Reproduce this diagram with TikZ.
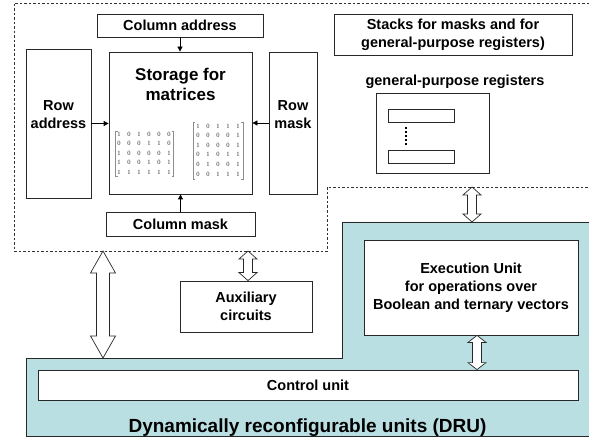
\documentclass[tikz,border=0pt]{standalone}
\usepackage{fontspec}
\setmainfont{Liberation Sans}
\newfontfamily\digitfont{Liberation Serif}
\usetikzlibrary{calc,arrows.meta}
\definecolor{druteal}{RGB}{186,223,227}
\definecolor{edge}{RGB}{40,40,40}

% hollow two-headed bus arrow between a top and a bottom point
% #1 top point, #2 bottom point, #3 shaft width, #4 head width, #5 head length
\newcommand\busarrow[5]{%
  \path[bus] let \p1=#1, \p2=#2 in
    (\x1-#3/2,\y1-#5) -- (\x1-#4/2,\y1-#5) -- (\x1,\y1) -- (\x1+#4/2,\y1-#5)
    -- (\x1+#3/2,\y1-#5) -- (\x1+#3/2,\y2+#5) -- (\x1+#4/2,\y2+#5) -- (\x1,\y2)
    -- (\x1-#4/2,\y2+#5) -- (\x1-#3/2,\y2+#5) -- cycle;}

\begin{document}
\begin{tikzpicture}[x=1pt,y=-1pt,
  box/.style={draw=edge, line width=0.8pt, fill=white, inner sep=0pt,
    font=\fontsize{14.5}{18}\selectfont\bfseries, align=center},
  lbl/.style={font=\fontsize{14.5}{18}\selectfont\bfseries, align=center, inner sep=0pt},
  title/.style={font=\fontsize{17}{20}\selectfont\bfseries, align=center, inner sep=0pt},
  feed/.style={draw=black, line width=0.8pt, -{Triangle[length=5pt,width=5pt]}},
  bus/.style={draw=edge, line width=0.7pt, fill=white},
  bit/.style={font=\digitfont\fontsize{6.5}{7}\selectfont, text=black!80, inner sep=0pt},
  brk/.style={draw=black!45, line width=0.5pt},
  frame/.style={draw=black!80, line width=0.6pt, dash pattern=on 2.5pt off 2pt}]

% canvas
\path[fill=white] (0,0) rectangle (589,438);
\useasboundingbox (0,0) rectangle (589,438);

% dynamically reconfigurable units (teal L-shaped region)
\path[fill=druteal, draw=edge, line width=0.8pt]
  (26,358) -- (342,358) -- (342,222) -- (589,222) -- (589,436) -- (26,436) -- cycle;

% dashed frame of the storage part
\draw[frame] (589,3) -- (14,3) -- (14,251) -- (327,251) -- (327,187) -- (589,187);

% storage block
\node[box, minimum width=166pt, minimum height=23pt] (coladdr) at (180,25.5) {Column address};
\node[box, minimum width=143pt, minimum height=142pt] (storage) at (180.5,123) {};
\node[title] (stortitle) at (180.5,84) {Storage for\\matrices};
\node[box, minimum width=65pt, minimum height=149pt] (rowaddr) at (58.5,123.5) {};
\node[lbl] (rowaddrtxt) at (58.5,115) {Row\\address};
\node[box, minimum width=48pt, minimum height=142pt] (rowmask) at (293,123) {};
\node[lbl] (rowmasktxt) at (293,115) {Row\\mask};
\node[box, minimum width=149pt, minimum height=24pt] (colmask) at (180.5,224) {Column mask};

\draw[feed] (coladdr.south) -- (coladdr.south |- storage.north);
\draw[feed] (rowaddr.east) -- (rowaddr.east -| storage.west);
\draw[feed] (rowmask.west) -- (rowmask.west -| storage.east);
\draw[feed] (colmask.north) -- (colmask.north |- storage.south);

% sample matrices
\foreach \r [count=\i from 0] in {{1,0,1,0,0,0},{0,0,0,1,1,0},{1,0,0,0,0,1},{1,0,0,1,0,1},{1,1,1,1,1,1}}
  \foreach \v [count=\j from 0] in \r
    \node[bit] (ma-\i-\j) at (119+10*\j,134.3+9.5*\i) {\v};
\draw[brk] (117.5,131) -- (115.5,131) -- (115.5,176) -- (117.5,176);
\draw[brk] (171.5,131) -- (173.5,131) -- (173.5,176) -- (171.5,176);
\foreach \r [count=\i from 0] in {{1,0,1,1,1},{0,0,0,0,1},{1,0,0,0,1},{0,1,0,1,1},{0,1,0,0,1},{0,0,1,1,1}}
  \foreach \v [count=\j from 0] in \r
    \node[bit] (mb-\i-\j) at (198+10*\j,126+9.6*\i) {\v};
\draw[brk] (195,122) -- (193,122) -- (193,179) -- (195,179);
\draw[brk] (241,122) -- (243,122) -- (243,179) -- (241,179);

% stacks and registers
\node[box, minimum width=238pt, minimum height=41pt] (stacks) at (453,34.5)
  {Stacks for masks and for\\general-purpose registers)};
\node[lbl] (regtitle) at (455,82) {general-purpose registers};
\node[box, minimum width=113pt, minimum height=80pt] (regs) at (432.5,133) {};
\node[box, line width=0.7pt, minimum width=66pt, minimum height=13pt] (reg1) at (421,115.5) {};
\node[box, line width=0.7pt, minimum width=66pt, minimum height=13pt] (reg2) at (421,156.5) {};
\coordinate (dotstop) at (406,127);
\coordinate (dotsbot) at (406,145);
\draw[line width=2pt, dash pattern=on 2pt off 2pt] (dotstop) -- (dotsbot);

% auxiliary circuits
\node[box, minimum width=132pt, minimum height=51pt] (aux) at (246,306.5) {Auxiliary\\circuits};

% execution and control units
\node[box, minimum width=214pt, minimum height=95pt] (exec) at (471,287.5)
  {Execution Unit\\for operations over\\Boolean and ternary vectors};
\node[box, minimum width=540pt, minimum height=30pt] (ctrl) at (308,385) {Control unit};
\node[font=\fontsize{19}{22}\selectfont\bfseries, anchor=base, inner sep=0pt] (dru) at (307.5,432)
  {Dynamically reconfigurable units (DRU)};

% bus connections
\coordinate (bigtop) at (103,251);
\coordinate (bigbot) at (103,358);
\busarrow{(bigtop)}{(bigbot)}{13pt}{25pt}{22pt}
\coordinate (auxtop) at (248,251);
\coordinate (auxbot) at (aux.north -| auxtop);
\busarrow{(auxtop)}{(auxbot)}{9pt}{18pt}{8pt}
\coordinate (regbustop) at (472,187);
\coordinate (regbusbot) at (472,222);
\busarrow{(regbustop)}{(regbusbot)}{9pt}{18pt}{8pt}
\coordinate (ecx) at (477,0);
\coordinate (exectop) at (exec.south -| ecx);
\coordinate (ctrlbot) at (ctrl.north -| ecx);
\busarrow{(exectop)}{(ctrlbot)}{9pt}{18pt}{7pt}
\end{tikzpicture}
\end{document}
